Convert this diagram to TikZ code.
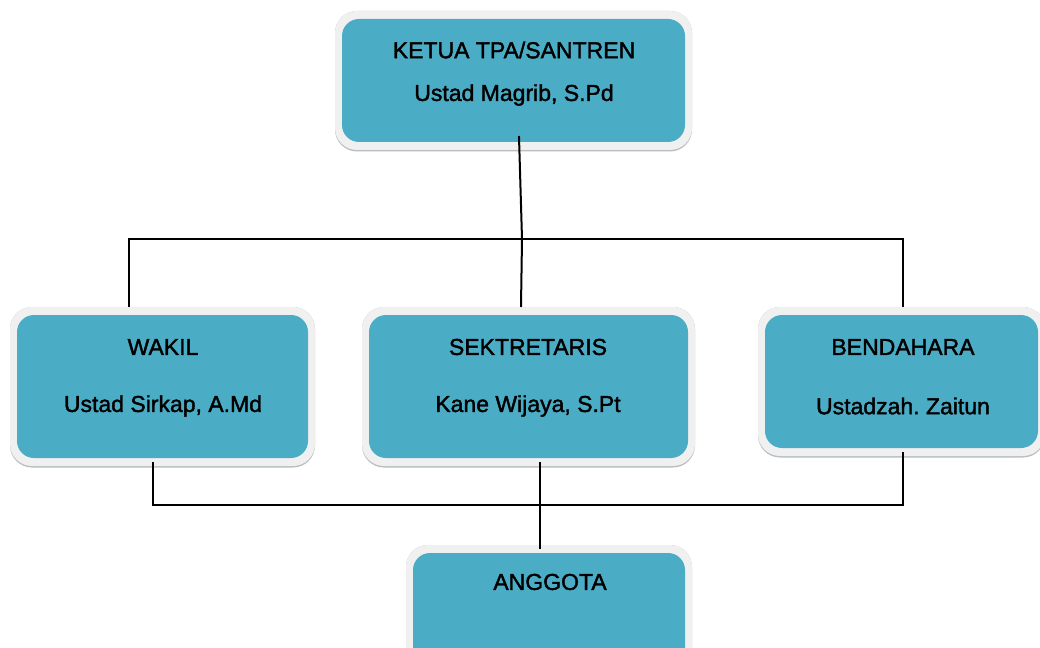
\documentclass[tikz,border=0pt]{standalone}
\usepackage{fontspec}
\setmainfont{Liberation Sans}
\newfontfamily\lblfont{Liberation Sans}[FakeBold=1.6]
\frenchspacing
\definecolor{boxc}{HTML}{4BACC6}
\definecolor{rimc}{HTML}{F0F0F0}
\definecolor{shadc}{HTML}{B8BEC2}
\tikzset{
  x=1pt, y=-1pt,
  rim/.style={fill=rimc, rounded corners=22},
  shad/.style={fill=shadc, rounded corners=22},
  inner/.style={fill=boxc, rounded corners=17, draw=none},
  lbl/.style={font=\lblfont\frenchspacing\fontsize{23}{27}\selectfont, text=black, inner sep=0pt},
  conn/.style={draw=black, line width=2pt, line cap=rect}
}
% \obox{name}{x1}{y1}{x2}{y2}  (inner box corners in px)
\newcommand\obox[5]{%
  \fill[shad] ({#2-7},{#3-8}) rectangle ({#4+7},{#5+9.5});
  \fill[rim] ({#2-7},{#3-8}) rectangle ({#4+7},{#5+8});
  \path[inner] (#2,#3) rectangle (#4,#5);
  \coordinate (#1-nw) at (#2,#3);
  \coordinate (#1-se) at (#4,#5);
}
\begin{document}
\begin{tikzpicture}
\useasboundingbox (0,0) rectangle (1040,647);
\clip (0,0) rectangle (1040,647);
\fill[white] (0,0) rectangle (1040,647);

\coordinate (topbot) at (519,137);
\coordinate (j1) at (522,239);
\coordinate (lt) at (129,239);
\coordinate (rt) at (903,239);
\coordinate (lb) at (153,505);
\coordinate (rb) at (903,505);

% boxes
\obox{top}{342}{19}{685}{142}
\obox{wakil}{17}{315}{308}{458}
\obox{sekt}{369}{315}{688}{458}
\obox{bend}{765}{315}{1038}{448}
\obox{angg}{413}{553}{685}{700}

\node[lbl] (t1) at (514,50) {KETUA TPA/SANTREN};
\node[lbl] (t2) at (514,95) {Ustad Magrib, S.Pd};
\node[lbl] (w1) at (163,347) {WAKIL};
\node[lbl] (w2) at (163,406) {Ustad Sirkap, A.Md};
\node[lbl] (s1) at (528,347) {SEKTRETARIS};
\node[lbl] (s2) at (528,406) {Kane Wijaya, S.Pt};
\node[lbl] (b1) at (903,347) {BENDAHARA};
\node[lbl] (b2) at (903,406) {Ustadzah. Zaitun};
\node[lbl] (a1) at (550,582) {ANGGOTA};

\coordinate (wakiltop) at (129,306);
\coordinate (sekttop) at (521,306);
\coordinate (bendtop) at (903,306);
\coordinate (wakilbot) at (153,463);
\coordinate (sektbot) at (540,463);
\coordinate (bendbot) at (903,453);
\coordinate (anggtop) at (540,548);

\draw[conn] (topbot) -- (j1) -- (sekttop);
\draw[conn] (wakiltop) -- (lt) -- (rt) -- (bendtop);
\draw[conn] (wakilbot) -- (lb) -- (rb) -- (bendbot);
\draw[conn] (sektbot) -- (anggtop);
\end{tikzpicture}
\end{document}
